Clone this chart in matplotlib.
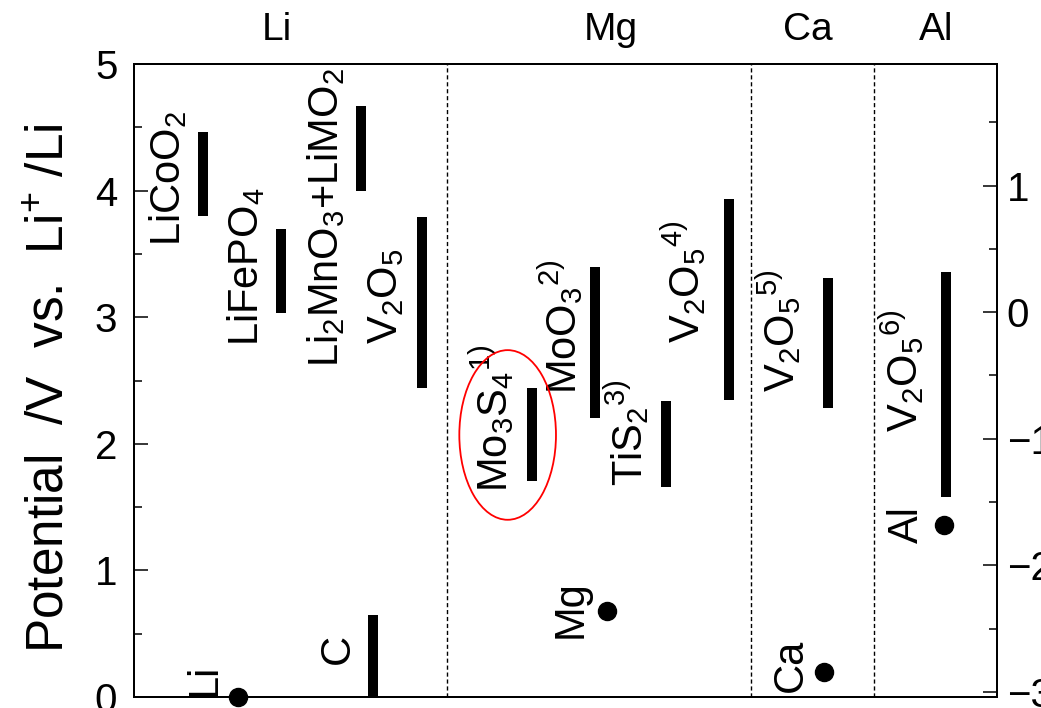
import matplotlib
matplotlib.use('Agg')
import matplotlib.pyplot as plt
from matplotlib.patches import Ellipse
from matplotlib.ticker import MultipleLocator

plt.rcParams['font.family'] = ['Liberation Sans', 'DejaVu Sans']
plt.rcParams['mathtext.fontset'] = 'custom'
plt.rcParams['mathtext.rm'] = 'Liberation Sans'
plt.rcParams['mathtext.it'] = 'Liberation Sans'

# electrode materials: potential windows (V vs. Li+/Li)
bar_names = [r'$\mathregular{LiCoO_2}$', r'$\mathregular{LiFePO_4}$',
             r'$\mathregular{Li_2MnO_3{+}LiMO_2}$', r'$\mathregular{V_2O_5}$',
             r'$\mathregular{C}$',
             r'$\mathregular{Mo_3S_4{}^{1)}}$', r'$\mathregular{MoO_3{}^{2)}}$',
             r'$\mathregular{TiS_2{}^{3)}}$', r'$\mathregular{V_2O_5{}^{4)}}$',
             r'$\mathregular{V_2O_5{}^{5)}}$', r'$\mathregular{V_2O_5{}^{6)}}$']
bar_x = [0.80, 1.70, 2.63, 3.34, 2.77, 4.61, 5.34, 6.16, 6.89, 8.04, 9.41]
bar_lo = [3.80, 3.03, 4.00, 2.44, 0.00, 1.71, 2.20, 1.66, 2.35, 2.28, 1.58]
bar_hi = [4.46, 3.70, 4.67, 3.79, 0.65, 2.44, 3.40, 2.34, 3.93, 3.31, 3.36]
# label anchor (baseline x, start y)
bar_lab_x = [0.53, 1.44, 2.36, 3.05, 2.51, 4.33, 5.13, 5.90, 6.56, 7.66, 9.08]
bar_lab_y = [3.56, 2.77, 2.61, 2.79, 0.24, 1.62, 2.39, 1.67, 2.80, 2.41, 2.09]

# metal anodes
metal_names = ['Li', 'Mg', 'Ca', 'Al']
metal_x = [1.21, 5.48, 8.00, 9.39]
metal_v = [0.00, 0.68, 0.20, 1.36]
metal_lab_x = [0.95, 5.19, 7.74, 9.08]
metal_lab_y = [0.01, 0.47, 0.04, 1.22]

group_names = ['Li', 'Mg', 'Ca', 'Al']
group_x = [1.66, 5.53, 7.81, 9.30]
group_sep = [3.63, 7.15, 8.57]

fig = plt.figure(figsize=(10.41, 7.08), dpi=100)
ax = fig.add_axes([0.1287, 0.0155, 0.8290, 0.8941])
ax.set_xlim(0, 10)
ax.set_ylim(0, 5)

for xs in group_sep:
    ax.axvline(xs, color='black', lw=1.0, ls=(0, (3, 2)), zorder=1)

for x, lo, hi in zip(bar_x, bar_lo, bar_hi):
    ax.plot([x, x], [lo, hi], color='black', lw=7.2, solid_capstyle='butt', zorder=3)

for name, x, y in zip(bar_names, bar_lab_x, bar_lab_y):
    ax.text(x, y, name, rotation=90, rotation_mode='anchor', ha='left',
            va='baseline', fontsize=30)

ax.plot(metal_x, metal_v, 'o', color='black', ms=13, clip_on=False, zorder=4)
for name, x, y in zip(metal_names, metal_lab_x, metal_lab_y):
    ax.text(x, y, name, rotation=90, rotation_mode='anchor', ha='left',
            va='baseline', fontsize=30)

for name, x in zip(group_names, group_x):
    ax.text(x, 5.19, name, ha='center', va='baseline', fontsize=28, clip_on=False)

ax.add_patch(Ellipse((4.33, 2.07), 1.12, 1.34, fill=False, edgecolor='red', lw=1.3, zorder=5))

ax.xaxis.set_visible(False)
ax.yaxis.set_major_locator(MultipleLocator(1))
ax.yaxis.set_minor_locator(MultipleLocator(0.5))
ax.tick_params(axis='y', which='major', direction='in', length=10, width=1.1,
               labelsize=29, pad=12)
ax.tick_params(axis='y', which='minor', direction='in', length=5.5, width=1.1)
for sp in ax.spines.values():
    sp.set_linewidth(1.4)

# SHE scale on the right
ax2 = ax.twinx()
ax2.set_ylim(0 - 3.04, 5 - 3.04)
ax2.yaxis.set_major_locator(MultipleLocator(1))
ax2.yaxis.set_minor_locator(MultipleLocator(0.5))
ax2.tick_params(axis='y', which='major', direction='in', length=10, width=1.1,
                labelsize=29, pad=7)
ax2.tick_params(axis='y', which='minor', direction='in', length=5.5, width=1.1)
for sp in ax2.spines.values():
    sp.set_linewidth(1.4)

fig.text(63 / 1041, 1 - 653 / 708, r'Potential  /V  vs.  Li$^{+}$ /Li', rotation=90,
         rotation_mode='anchor', ha='left', va='baseline', fontsize=37)

fig.savefig('out.png', dpi=100)
